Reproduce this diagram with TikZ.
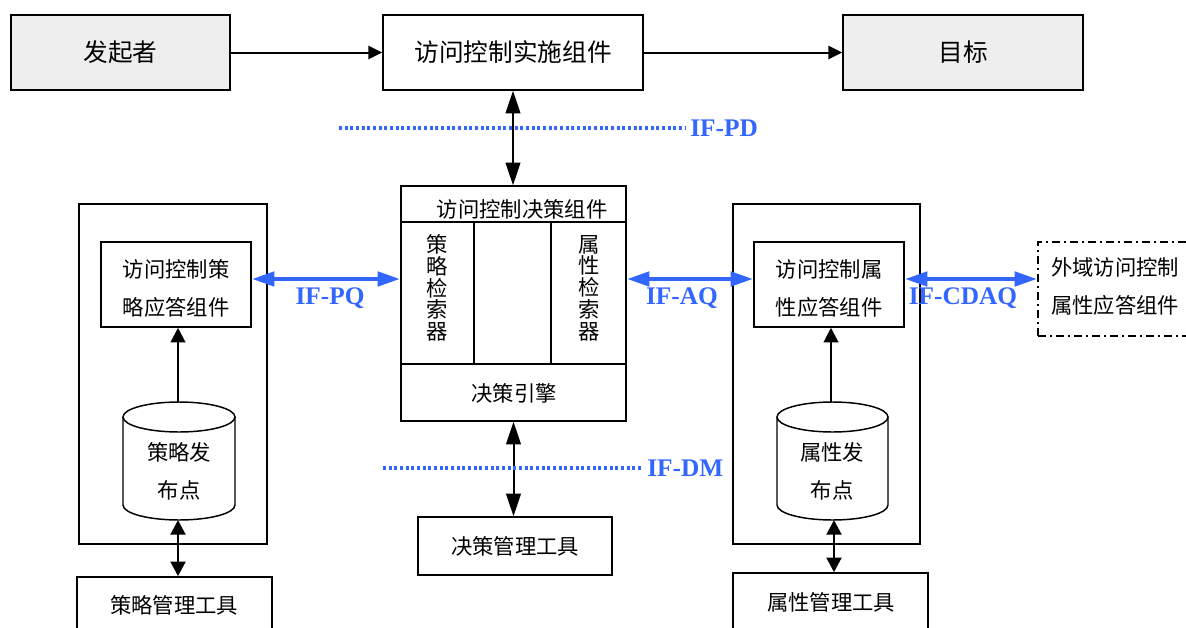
\documentclass[tikz,border=0pt]{standalone}
\usepackage{fontspec}
\setmainfont{Noto Sans CJK SC}
\newfontfamily\lblfont{Liberation Serif}
\usetikzlibrary{arrows.meta,fit}
\definecolor{ifblue}{RGB}{51,102,255}
\definecolor{boxgray}{RGB}{238,238,238}
\tikzset{
  box/.style={draw, line width=1.1pt, inner sep=0pt},
  graybox/.style={box, fill=boxgray},
  bigtxt/.style={font=\fontsize{18.5}{20}\selectfont, inner sep=0pt},
  smalltxt/.style={font=\fontsize{16}{28.5}\selectfont, align=center, inner sep=0pt},
  vtxt/.style={font=\fontsize{16}{16.3}\selectfont, align=center, inner sep=0pt},
  arr/.style={-{Triangle[length=10.5pt,width=10pt]}, line width=1.5pt},
  darr/.style={{Triangle[length=17pt,width=11pt]}-{Triangle[length=17pt,width=11pt]}, line width=1.5pt},
  sdarr/.style={{Triangle[length=11pt,width=11pt]}-{Triangle[length=11pt,width=11pt]}, line width=2.2pt},
  barr/.style={{Triangle[length=17pt,width=10.5pt]}-{Triangle[length=17pt,width=10.5pt]}, draw=ifblue, fill=ifblue, line width=3.5pt},
  dotline/.style={draw=ifblue, line width=3pt, dash pattern=on 2.25pt off 2pt},
  lbl/.style={text=ifblue, inner sep=0pt, font=\lblfont\bfseries\fontsize{19}{19}\selectfont},
  cyl/.style={line width=1.1pt},
  dashdotbox/.style={draw, line width=1.1pt, dash pattern=on 6pt off 3pt on 1.5pt off 3pt, inner sep=0pt}
}
\begin{document}
\begin{tikzpicture}[x=0.75pt,y=-0.75pt]
\useasboundingbox (0,0) rectangle (1186,628);
% top row
\node[graybox, fit={(11,15)(230,90)}] (init) {};
\node[bigtxt] (inittxt) at (init.center) {发起者};
\node[box, fit={(383,15)(643,90)}] (pep) {};
\node[bigtxt] (peptxt) at (pep.center) {访问控制实施组件};
\node[graybox, fit={(843,15)(1083,90)}] (target) {};
\node[bigtxt] (targettxt) at (target.center) {目标};
\draw[arr] (init) -- (pep);
\draw[arr] (pep) -- (target);
% decision component
\node[box, fit={(401,186)(626,421)}] (dec) {};
\node[box, fit={(401,186)(626,222)}] (dechead) {};
\node[smalltxt] (dectitle) at (522,209) {访问控制决策组件};
\node[box, fit={(401,222)(474,364)}] (pret) {};
\node[vtxt] (prettxt) at (437,288) {策\\略\\检\\索\\器};
\node[box, fit={(551,222)(626,364)}] (aret) {};
\node[vtxt] (arettxt) at (589,288) {属\\性\\检\\索\\器};
\node[box, fit={(401,364)(626,421)}] (engine) {};
\node[smalltxt] (enginetxt) at (514,393) {决策引擎};
\draw[darr] (pep.south) -- (pep.south |- dec.north);
% IF-PD
\node[lbl, anchor=west] (ifpd) at (690,128) {IF-PD};
\coordinate (pdstart) at (339,128);
\draw[dotline] (pdstart) -- ([xshift=-3pt]ifpd.west);
% decision management
\node[box, fit={(418,517)(612,575)}] (dmt) {};
\node[smalltxt] (dmttxt) at (dmt.center) {决策管理工具};
\draw[darr] (engine.south) -- (engine.south |- dmt.north);
\node[lbl, anchor=west] (ifdm) at (647,468) {IF-DM};
\coordinate (dmstart) at (383,468);
\draw[dotline] (dmstart) -- ([xshift=-3pt]ifdm.west);
% left policy side
\node[box, fit={(79,204)(267,544)}] (pouter) {};
\node[box, fit={(101,242)(251,327)}] (pinner) {};
\node[smalltxt] (pinnertxt) at (176,288) {访问控制策\\略应答组件};
\draw[cyl, fill=white] (123,417) -- (123,505) arc[start angle=180, end angle=0, x radius=56, y radius=15] -- (235,417);
\draw[cyl] (179,417) ellipse [x radius=56, y radius=15];
\coordinate (pcyltop) at (178,402);
\coordinate (pcylbot) at (178,520);
\node[smalltxt] (pcyltxt) at (179,471) {策略发\\布点};
\draw[arr, -{Triangle[length=11pt,width=11pt]}] (pcyltop) -- (pcyltop |- pinner.south);
\node[box, fit={(77,577)(272,650)}] (ptool) {};
\node[smalltxt] (ptooltxt) at (174,605) {策略管理工具};
\draw[sdarr] (pcylbot) -- (pcylbot |- ptool.north);
% right attribute side
\node[box, fit={(733,204)(920,544)}] (aouter) {};
\node[box, fit={(754,242)(904,327)}] (ainner) {};
\node[smalltxt] (ainnertxt) at (829,288) {访问控制属\\性应答组件};
\draw[cyl, fill=white] (777,417) -- (777,505) arc[start angle=180, end angle=0, x radius=55.5, y radius=15] -- (888,417);
\draw[cyl] (832.5,417) ellipse [x radius=55.5, y radius=15];
\coordinate (acyltop) at (831,402);
\coordinate (acylbot) at (834,520);
\node[smalltxt] (acyltxt) at (832,471) {属性发\\布点};
\draw[arr, -{Triangle[length=11pt,width=11pt]}] (acyltop) -- (acyltop |- ainner.south);
\node[box, fit={(733,573)(928,650)}] (atool) {};
\node[smalltxt] (atooltxt) at (831,602) {属性管理工具};
\draw[sdarr] (acylbot) -- (acylbot |- atool.north);
% external
\node[dashdotbox, fit={(1038,242)(1200,336)}] (ext) {};
\node[smalltxt, align=left, anchor=west] (exttxt) at (1051,286.5) {外域访问控制\\属性应答组件};
% blue interface arrows
\coordinate (ifrow) at (0,279);
\draw[barr] (pinner.east |- ifrow) -- (dec.west |- ifrow);
\draw[barr] (dec.east |- ifrow) -- (ainner.west |- ifrow);
\draw[barr] (ainner.east |- ifrow) -- (ext.west |- ifrow);
\node[lbl] (ifpq) at (330,298) {IF-PQ};
\node[lbl] (ifaq) at (682,298) {IF-AQ};
\node[lbl] (ifcdaq) at (963,298) {IF-CDAQ};
\end{tikzpicture}
\end{document}
